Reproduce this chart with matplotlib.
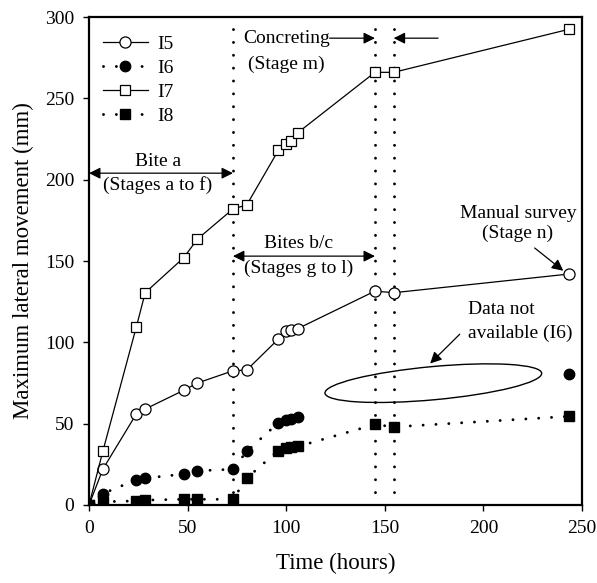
import numpy as np
import matplotlib
matplotlib.use("Agg")
import matplotlib.pyplot as plt
from matplotlib.patches import Ellipse
import matplotlib.transforms as mtransforms

plt.rcParams['font.family'] = ['Liberation Serif', 'DejaVu Serif']

# ---- data ----
times = [0, 7, 24, 28.5, 48, 55, 73, 80, 96, 100, 102.5, 106, 145, 154.5, 243.5]
I5 = [0, 22, 56, 59, 70.5, 75, 82.5, 83, 102, 107, 107.5, 108.5, 131.5, 130.5, 142]
I6 = [0, 7, 15.5, 16.5, 19, 21, 22, 33, 50.5, 52, 53, 54, np.nan, np.nan, 80.5]
I7 = [0, 33, 109.5, 130.5, 152, 163.5, 182, 184.5, 218, 222, 223.5, 229, 266, 266, 292.5]
I8 = [0, 2, 2.5, 3, 3.5, 3.5, 3.5, 16.5, 33.5, 35, 35.5, 36, 49.5, 48, 54.5]
stage_lines = [73, 145, 154.5]
xticks = [0, 50, 100, 150, 200, 250]
yticks = [0, 50, 100, 150, 200, 250, 300]

fig = plt.figure(figsize=(5.97, 5.83), dpi=100)
ax = fig.add_axes([0.1491, 0.1338, 0.8258, 0.8370])

dot = (0, (0.01, 4.4))
ax.plot(times, I5, '-', color='k', lw=0.9, marker='o', ms=8, mfc='white', mec='k', mew=0.9, label='I5', zorder=3)
ax.plot(times, I6, linestyle=dot, dash_capstyle='round', color='k', lw=2.1, marker='o', ms=7.5, mfc='k', mec='k', label='I6', zorder=3)
ax.plot(times, I7, '-', color='k', lw=0.9, marker='s', ms=7, mfc='white', mec='k', mew=0.9, label='I7', zorder=3)
ax.plot(times, I8, linestyle=dot, dash_capstyle='round', color='k', lw=2.1, marker='s', ms=6.5, mfc='k', mec='k', label='I8', zorder=3)

for xv in stage_lines:
    ax.axvline(xv, color='k', linestyle=dot, dash_capstyle='round', lw=2.1, zorder=1)

ax.set_xlim(0, 250)
ax.set_ylim(0, 300)
ax.set_xticks(xticks)
ax.set_yticks(yticks)
ax.tick_params(direction='out', length=4.5, width=1, labelsize=14, pad=6)
for s in ax.spines.values():
    s.set_linewidth(1.6)
ax.set_xlabel('Time (hours)', fontsize=16.5, labelpad=12)
ax.set_ylabel('Maximum lateral movement (mm)', fontsize=16.5, labelpad=8)

leg = ax.legend(loc='upper left', bbox_to_anchor=(0.028, 0.962), frameon=False, fontsize=14,
                handlelength=2.3, handletextpad=0.5, labelspacing=0.32, borderpad=0, borderaxespad=0)

fs = 14
ap = dict(arrowstyle='<|-|>', color='k', lw=0.9, mutation_scale=17, shrinkA=0, shrinkB=0)
ap1 = dict(arrowstyle='-|>', color='k', lw=0.9, mutation_scale=17, shrinkA=0, shrinkB=0)

# Bite a
ax.annotate('', xy=(73, 204), xytext=(0, 204), arrowprops=ap)
ax.text(35, 211, 'Bite a', ha='center', va='center', fontsize=fs)
ax.text(35, 197, '(Stages a to f)', ha='center', va='center', fontsize=fs)

# Bites b/c
ax.annotate('', xy=(145, 153), xytext=(73, 153), arrowprops=ap)
ax.text(106.5, 160.5, 'Bites b/c', ha='center', va='center', fontsize=fs)
ax.text(106.5, 145.5, '(Stages g to l)', ha='center', va='center', fontsize=fs)

# Concreting
ax.text(78, 287, 'Concreting', ha='left', va='center', fontsize=fs)
ax.text(80.5, 271, '(Stage m)', ha='left', va='center', fontsize=fs)
ax.annotate('', xy=(145, 287), xytext=(122, 287), arrowprops=ap1)
ax.annotate('', xy=(154.5, 287), xytext=(177, 287), arrowprops=ap1)

# Manual survey
ax.text(217.5, 179, 'Manual survey', ha='center', va='center', fontsize=fs)
ax.text(217.5, 167, '(Stage n)', ha='center', va='center', fontsize=fs)
ax.annotate('', xy=(240.5, 144), xytext=(226, 158), arrowprops=ap1)

# Data not available
ax.text(192.2, 120, 'Data not', ha='left', va='center', fontsize=fs)
ax.text(192.2, 105.3, 'available (I6)', ha='left', va='center', fontsize=fs)
ax.annotate('', xy=(173, 87), xytext=(188, 105), arrowprops=ap1)

trans = fig.dpi_scale_trans + mtransforms.ScaledTranslation(174.6, 74.9, ax.transData)
ell = Ellipse((0, 0), width=2.176, height=0.332, angle=5.27, fill=False, edgecolor='k', lw=1.0, transform=trans)
ax.add_patch(ell)

fig.savefig('out.png', dpi=100)
